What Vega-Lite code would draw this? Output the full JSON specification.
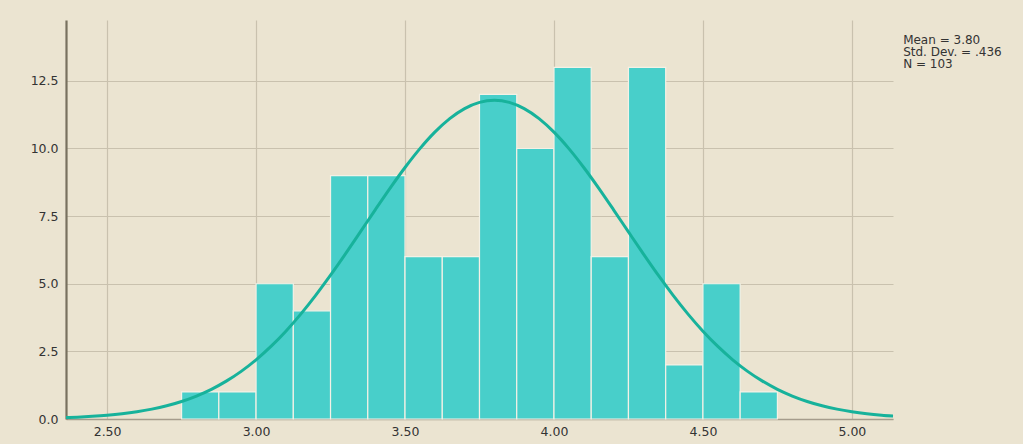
{
  "$schema": "https://vega.github.io/schema/vega-lite/v6.json",
  "width": 827,
  "height": 399,
  "autosize": {"type": "none"},
  "padding": {"left": 66, "top": 20, "right": 130, "bottom": 25},
  "background": "#ebe4d1",
  "config": {
    "view": {"stroke": null},
    "font": "DejaVu Sans",
    "axis": {
      "labelFont": "DejaVu Sans",
      "labelFontSize": 12.5,
      "labelColor": "#333333",
      "labelFontWeight": "normal",
      "gridColor": "#c9c1ae",
      "gridWidth": 1.2,
      "ticks": false,
      "title": null
    }
  },
  "datasets": {
    "bins": [
      {"lo": 2.75, "hi": 2.875, "count": 1},
      {"lo": 2.875, "hi": 3.0, "count": 1},
      {"lo": 3.0, "hi": 3.125, "count": 5},
      {"lo": 3.125, "hi": 3.25, "count": 4},
      {"lo": 3.25, "hi": 3.375, "count": 9},
      {"lo": 3.375, "hi": 3.5, "count": 9},
      {"lo": 3.5, "hi": 3.625, "count": 6},
      {"lo": 3.625, "hi": 3.75, "count": 6},
      {"lo": 3.75, "hi": 3.875, "count": 12},
      {"lo": 3.875, "hi": 4.0, "count": 10},
      {"lo": 4.0, "hi": 4.125, "count": 13},
      {"lo": 4.125, "hi": 4.25, "count": 6},
      {"lo": 4.25, "hi": 4.375, "count": 13},
      {"lo": 4.375, "hi": 4.5, "count": 2},
      {"lo": 4.5, "hi": 4.625, "count": 5},
      {"lo": 4.625, "hi": 4.75, "count": 1}
    ],
    "curve": [
      {"x": 2.362, "y": 0.051},
      {"x": 2.40, "y": 0.068},
      {"x": 2.45, "y": 0.098},
      {"x": 2.50, "y": 0.138},
      {"x": 2.55, "y": 0.193},
      {"x": 2.60, "y": 0.267},
      {"x": 2.65, "y": 0.364},
      {"x": 2.70, "y": 0.489},
      {"x": 2.75, "y": 0.648},
      {"x": 2.80, "y": 0.849},
      {"x": 2.85, "y": 1.097},
      {"x": 2.90, "y": 1.399},
      {"x": 2.95, "y": 1.761},
      {"x": 3.00, "y": 2.188},
      {"x": 3.05, "y": 2.683},
      {"x": 3.10, "y": 3.247},
      {"x": 3.15, "y": 3.878},
      {"x": 3.20, "y": 4.571},
      {"x": 3.25, "y": 5.316},
      {"x": 3.30, "y": 6.104},
      {"x": 3.35, "y": 6.916},
      {"x": 3.40, "y": 7.734},
      {"x": 3.45, "y": 8.536},
      {"x": 3.50, "y": 9.298},
      {"x": 3.55, "y": 9.995},
      {"x": 3.60, "y": 10.604},
      {"x": 3.65, "y": 11.104},
      {"x": 3.70, "y": 11.475},
      {"x": 3.75, "y": 11.704},
      {"x": 3.80, "y": 11.781},
      {"x": 3.85, "y": 11.704},
      {"x": 3.90, "y": 11.475},
      {"x": 3.95, "y": 11.104},
      {"x": 4.00, "y": 10.604},
      {"x": 4.05, "y": 9.995},
      {"x": 4.10, "y": 9.298},
      {"x": 4.15, "y": 8.536},
      {"x": 4.20, "y": 7.734},
      {"x": 4.25, "y": 6.916},
      {"x": 4.30, "y": 6.104},
      {"x": 4.35, "y": 5.316},
      {"x": 4.40, "y": 4.571},
      {"x": 4.45, "y": 3.878},
      {"x": 4.50, "y": 3.247},
      {"x": 4.55, "y": 2.683},
      {"x": 4.60, "y": 2.188},
      {"x": 4.65, "y": 1.761},
      {"x": 4.70, "y": 1.399},
      {"x": 4.75, "y": 1.097},
      {"x": 4.80, "y": 0.849},
      {"x": 4.85, "y": 0.648},
      {"x": 4.90, "y": 0.489},
      {"x": 4.95, "y": 0.364},
      {"x": 5.00, "y": 0.267},
      {"x": 5.05, "y": 0.193},
      {"x": 5.10, "y": 0.138},
      {"x": 5.138, "y": 0.106}
    ],
    "stats": [
      {"x": 5.172, "y": 14.18, "label": "Mean = 3.80\nStd. Dev. = .436\nN = 103"}
    ]
  },
  "layer": [
    {
      "data": {"name": "bins"},
      "mark": {"type": "rect", "fill": "#48cfca", "stroke": "#f4f1e6", "strokeWidth": 1.2},
      "encoding": {
        "x": {
          "field": "lo", "type": "quantitative",
          "scale": {"domain": [2.362, 5.138], "nice": false, "zero": false},
          "axis": {
            "values": [2.5, 3.0, 3.5, 4.0, 4.5, 5.0],
            "format": ".2f",
            "labelPadding": 6,
            "domainColor": "#a59c8c",
            "domainWidth": 1.5,
            "grid": true
          }
        },
        "x2": {"field": "hi"},
        "y": {
          "field": "count", "type": "quantitative",
          "scale": {"domain": [0, 14.75], "nice": false},
          "axis": {
            "values": [0, 2.5, 5, 7.5, 10, 12.5],
            "format": ".1f",
            "labelPadding": 8,
            "domainColor": "#78715f",
            "domainWidth": 2.2,
            "grid": true
          }
        },
        "y2": {"datum": 0}
      }
    },
    {
      "data": {"name": "curve"},
      "mark": {"type": "line", "color": "#17b29b", "strokeWidth": 3, "interpolate": "monotone"},
      "encoding": {
        "x": {"field": "x", "type": "quantitative"},
        "y": {"field": "y", "type": "quantitative"}
      }
    },
    {
      "data": {"name": "stats"},
      "mark": {"type": "text", "align": "left", "baseline": "top", "font": "DejaVu Sans", "fontSize": 12, "lineHeight": 12, "color": "#333333", "clip": false, "lineBreak": "\n"},
      "encoding": {
        "x": {"field": "x", "type": "quantitative"},
        "y": {"field": "y", "type": "quantitative"},
        "text": {"field": "label"}
      }
    }
  ]
}
